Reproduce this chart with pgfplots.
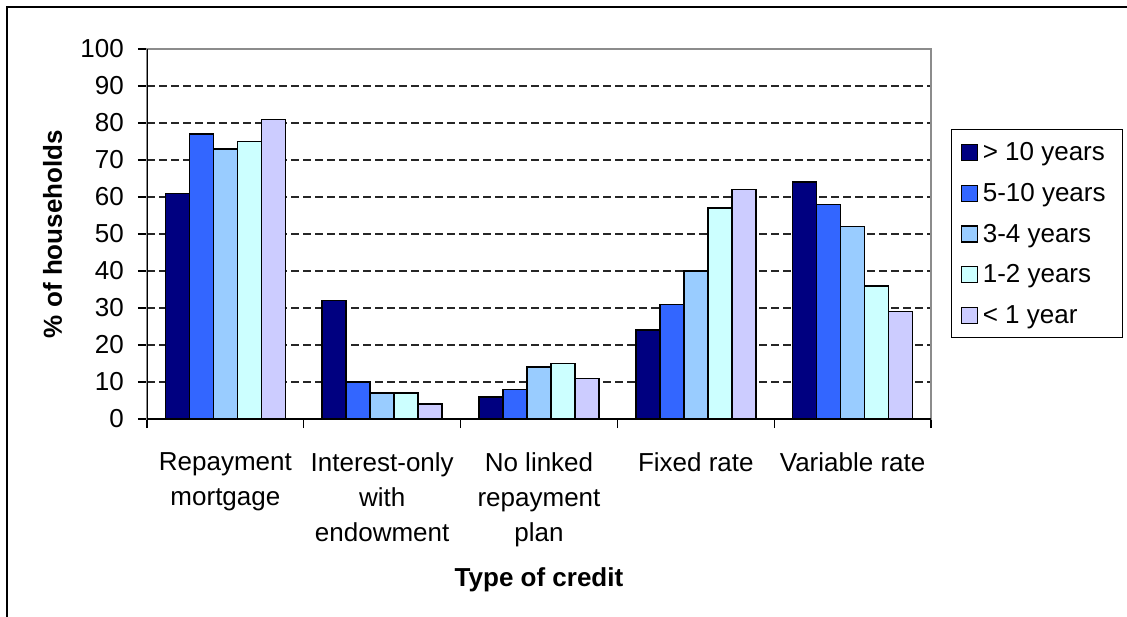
\documentclass[border=0pt]{standalone}
\usepackage{fontspec}
\setmainfont{Liberation Sans}
\usepackage{pgfplots}
\pgfplotsset{compat=1.18}
\definecolor{cA}{HTML}{000080}
\definecolor{cB}{HTML}{3366FF}
\definecolor{cC}{HTML}{99CCFF}
\definecolor{cD}{HTML}{CCFFFF}
\definecolor{cE}{HTML}{CCCCFF}
\pgfplotsset{
  mybar/.style={fill=#1, draw=black, line width=1.5pt,
    legend image code/.code={%
      \draw[fill=#1, draw=black, line width=1.2pt] (0pt,0pt) rectangle (16pt,16pt);}},
}
\newcommand{\leg}[1]{\makebox[136pt][l]{\hspace*{5pt}\rule[-5pt]{0pt}{23pt}#1}}
\begin{document}
\begin{tikzpicture}[font=\fontsize{26}{35}\selectfont]
\useasboundingbox (0pt,0pt) rectangle (1127pt,-617pt);
\draw[line width=1.5pt] (7pt,-640pt) -- (7pt,-7pt) -- (1150pt,-7pt);
\begin{axis}[
  at={(147pt,-419pt)}, anchor=south west,
  scale only axis, width=784pt, height=370pt,
  xmin=-0.5, xmax=4.5, ymin=0, ymax=100,
  ybar=0pt, bar width=24pt,
  axis line style={draw=black!45, line width=1.5pt},
  tick align=outside, major tick length=9pt, tick pos=left,
  tick style={black, line width=1.2pt},
  xtick={-0.5,0.5,...,4.5}, xticklabels={},
  extra x ticks={0,1,2,3,4},
  extra x tick labels={Repayment\\mortgage, Interest-only\\with\\endowment, No linked\\repayment\\plan, Fixed rate, Variable rate},
  extra x tick style={major tick length=0pt},
  xticklabel style={align=center, anchor=north, inner sep=0pt, yshift=-33pt},
  ytick={0,10,...,100},
  yticklabel style={inner sep=0pt, xshift=-14pt},
  /pgf/number format/assume math mode=true,
  ymajorgrids,
  major grid style={draw=black!85, line width=1.2pt, dash pattern=on 8pt off 4pt},
  ylabel={\bfseries \% of households},
  xlabel={\bfseries Type of credit},
  ylabel style={at={(axis description cs:-0.1205,0.5)}, anchor=center},
  xlabel style={at={(axis description cs:0.5,-0.435)}, anchor=center},
  legend style={at={(1.02551,0.78378)}, anchor=north west, draw=black, line width=1.2pt,
    inner xsep=9pt, inner ysep=13pt, row sep=21pt, column sep=0pt,
    cells={anchor=base west}, nodes={inner sep=0pt}},
]
\addplot[mybar=cA] coordinates {(0,61) (1,32) (2,6) (3,24) (4,64)};
\addlegendentry{\leg{> 10 years}}
\addplot[mybar=cB] coordinates {(0,77) (1,10) (2,8) (3,31) (4,58)};
\addlegendentry{\leg{5-10 years}}
\addplot[mybar=cC] coordinates {(0,73) (1,7) (2,14) (3,40) (4,52)};
\addlegendentry{\leg{3-4 years}}
\addplot[mybar=cD] coordinates {(0,75) (1,7) (2,15) (3,57) (4,36)};
\addlegendentry{\leg{1-2 years}}
\addplot[mybar=cE] coordinates {(0,81) (1,4) (2,11) (3,62) (4,29)};
\addlegendentry{\leg{< 1 year}}
\draw[black, line width=1.5pt] (rel axis cs:0,1) -- (rel axis cs:0,0) -- (rel axis cs:1,0);
\end{axis}
\end{tikzpicture}
\end{document}
